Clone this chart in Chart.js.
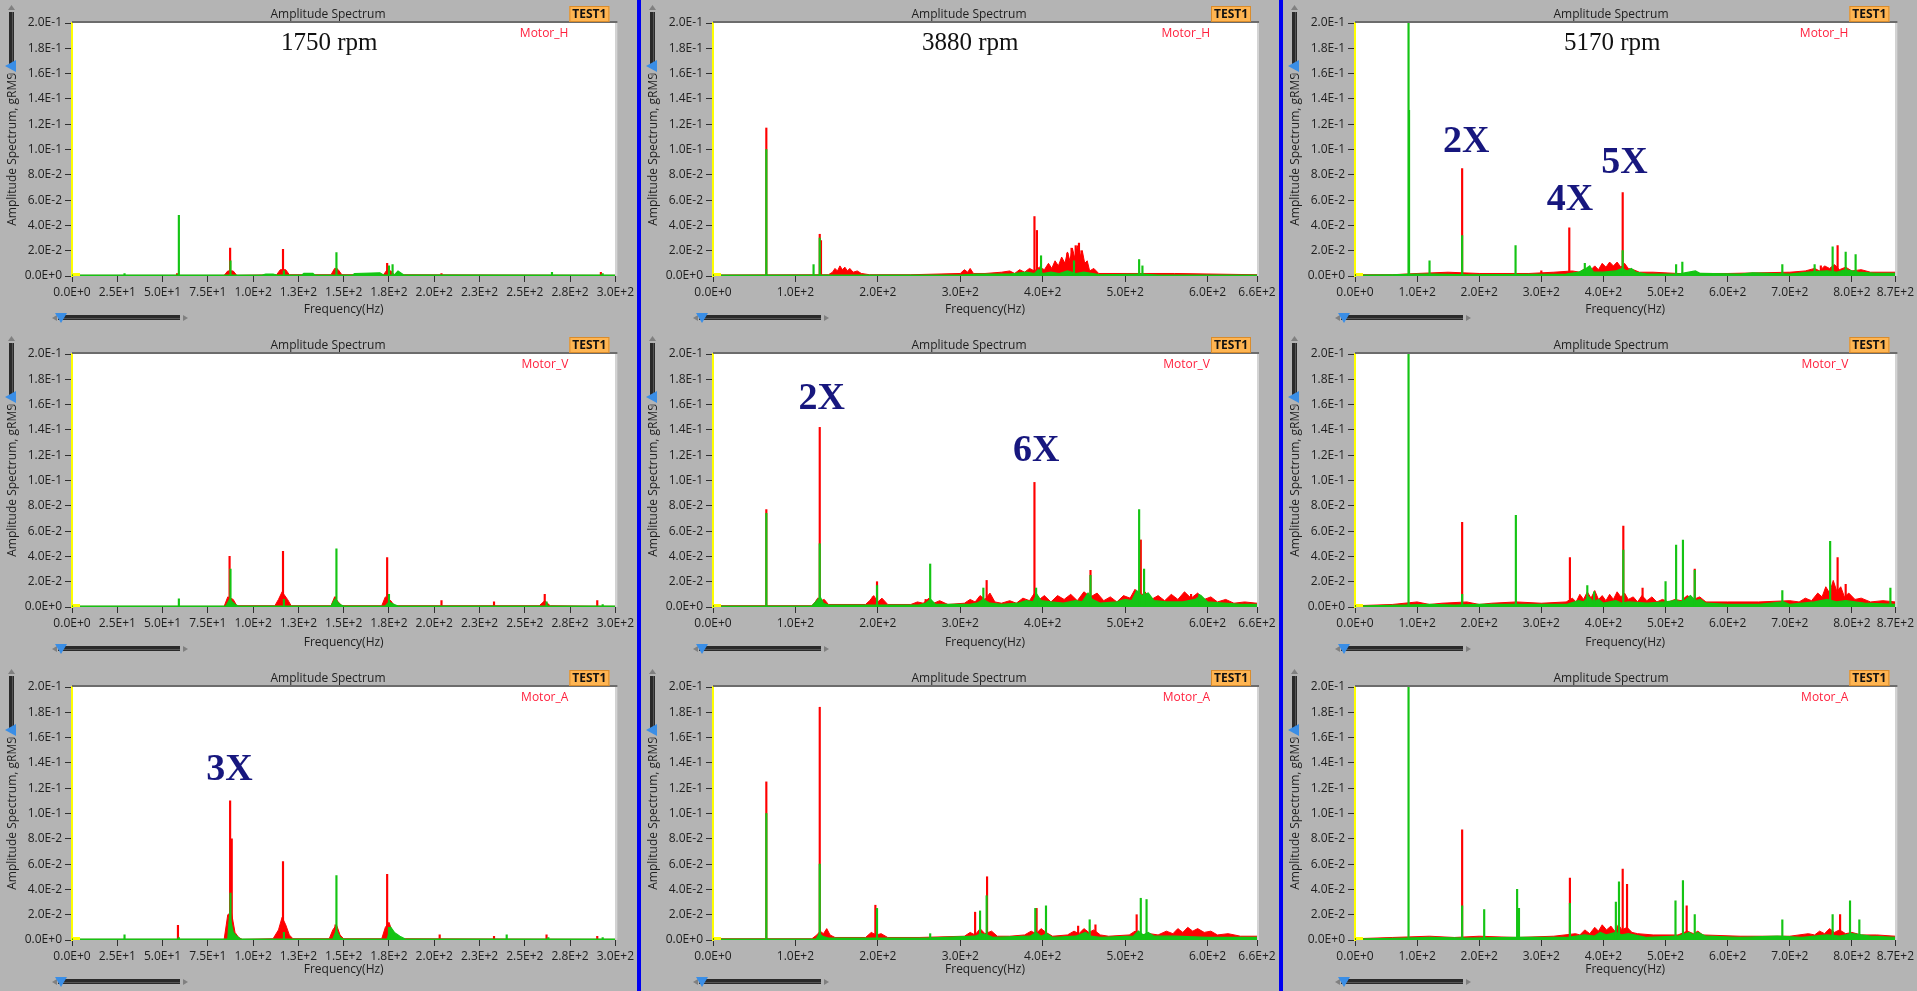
<!DOCTYPE html>
<html>
<head>
<meta charset="utf-8">
<script src="https://cdn.jsdelivr.net/npm/chart.js"></script>
<style>
body { margin: 0; background: #b4b4b4; width: 1917px; height: 991px; overflow: hidden; position: relative; }
.panel { position: absolute; }
.sep { position: absolute; top: 0; width: 4px; height: 991px; background: #0000f0; }
</style>
</head>
<body>
<div class="sep" style="left:637px"></div>
<div class="sep" style="left:1279px"></div>
<script>
// ---- data (frequency in Hz, amplitude in gRMS) ----
var rpmLabels = ['1750 rpm', '3880 rpm', '5170 rpm'];
var channels = ['Motor_H', 'Motor_V', 'Motor_A'];
var xMax = [300, 660, 870];
var xTicks1750 = [0, 25, 50, 75, 100, 125, 150, 175, 200, 225, 250, 275, 300];
var xTicks3880 = [0, 100, 200, 300, 400, 500, 600, 660];
var xTicks5170 = [0, 100, 200, 300, 400, 500, 600, 700, 800, 870];
var yTicks = [0, 0.02, 0.04, 0.06, 0.08, 0.1, 0.12, 0.14, 0.16, 0.18, 0.2];

// 1750 rpm
var hGreen1750 = [[29, 0.002], [59, 0.048], [87.5, 0.012], [117, 0.004], [146, 0.0185], [175, 0.008], [177, 0.009], [265, 0.003], [293, 0.002]];
var hRed1750 = [[58, 0.002], [87.3, 0.022], [116.5, 0.021], [146, 0.006], [174, 0.010], [204, 0.002], [292, 0.003]];
var hGreenFloor1750 = [[0, 0.0008], [105, 0.0008], [107, 0.0015], [111, 0.0015], [113, 0.0008], [127, 0.0008], [128, 0.002], [133, 0.002], [134, 0.0008], [155, 0.0008], [156, 0.002], [170, 0.0025], [172, 0.0008], [178, 0.0008], [180, 0.004], [183, 0.001], [300, 0.0008]];
var hRedFloor1750 = [[0, 0.0005], [84, 0.0005], [86, 0.004], [89, 0.004], [91, 0.0005], [113, 0.001], [115, 0.005], [118, 0.005], [120, 0.001], [143, 0.001], [145, 0.006], [147, 0.005], [149, 0.001], [172, 0.001], [174, 0.005], [176, 0.004], [178, 0.001], [300, 0.0005]];

var vGreen1750 = [[59, 0.0065], [87.5, 0.030], [117, 0.006], [146, 0.046], [175, 0.010], [262, 0.004], [293, 0.002]];
var vRed1750 = [[87, 0.040], [116.5, 0.044], [145.5, 0.008], [174, 0.039], [204, 0.005], [233, 0.004], [261, 0.010], [290, 0.005]];
var vGreenFloor1750 = [[0, 0.0008], [85, 0.0008], [87, 0.006], [90, 0.002], [92, 0.0008], [143, 0.0008], [145, 0.006], [148, 0.002], [150, 0.0008], [173, 0.0008], [175, 0.004], [178, 0.002], [180, 0.0008], [300, 0.0008]];
var vRedFloor1750 = [[0, 0.0005], [84, 0.0005], [86, 0.008], [89, 0.006], [91, 0.001], [112, 0.001], [114, 0.006], [116, 0.012], [119, 0.006], [121, 0.001], [143, 0.001], [145, 0.008], [147, 0.004], [149, 0.001], [171, 0.001], [173, 0.008], [176, 0.005], [178, 0.001], [258, 0.001], [261, 0.005], [264, 0.001], [300, 0.0005]];

var aGreen1750 = [[29, 0.004], [59, 0.002], [87.5, 0.037], [117, 0.006], [146, 0.051], [175, 0.010], [240, 0.004], [263, 0.002], [293, 0.002]];
var aRed1750 = [[58.5, 0.0115], [87.3, 0.110], [88.2, 0.080], [116.5, 0.062], [145.5, 0.012], [174, 0.052], [203, 0.004], [233, 0.003], [262, 0.004], [290, 0.003]];
var aGreenFloor1750 = [[0, 0.0008], [86, 0.0008], [87, 0.02], [89, 0.006], [91, 0.003], [93, 0.0008], [144, 0.0008], [146, 0.008], [148, 0.002], [150, 0.0008], [174, 0.0008], [176, 0.010], [178, 0.006], [181, 0.003], [184, 0.0008], [300, 0.0008]];
var aRedFloor1750 = [[0, 0.0005], [84, 0.0005], [86, 0.02], [88, 0.022], [90, 0.006], [92, 0.002], [94, 0.0005], [111, 0.001], [114, 0.008], [116, 0.018], [118, 0.012], [120, 0.004], [122, 0.001], [142, 0.001], [144, 0.008], [146, 0.012], [148, 0.004], [150, 0.001], [171, 0.001], [173, 0.010], [175, 0.014], [177, 0.006], [180, 0.002], [183, 0.001], [300, 0.0005]];

// 3880 rpm
var hGreen3880 = [[64.7, 0.100], [122, 0.009], [129.5, 0.030], [398, 0.016], [438, 0.012], [517, 0.013], [521, 0.008]];
var hRed3880 = [[64.7, 0.117], [129.5, 0.033], [131, 0.028], [390, 0.047], [393, 0.036], [430, 0.018], [435, 0.022], [440, 0.024], [444, 0.026], [447, 0.020]];
var hGreenFloor3880 = [[0, 0.0008], [300, 0.0008], [320, 0.0015], [360, 0.0015], [380, 0.003], [390, 0.002], [395, 0.005], [400, 0.002], [410, 0.003], [420, 0.002], [430, 0.004], [440, 0.002], [450, 0.003], [470, 0.001], [520, 0.0015], [540, 0.0008], [660, 0.0008]];
var hRedFloor3880 = [[0, 0.0008], [140, 0.001], [145, 0.003], [148, 0.006], [151, 0.004], [154, 0.008], [157, 0.005], [160, 0.007], [163, 0.004], [166, 0.006], [170, 0.003], [175, 0.004], [180, 0.002], [190, 0.001], [240, 0.001], [300, 0.002], [305, 0.005], [309, 0.003], [312, 0.006], [316, 0.002], [330, 0.002], [350, 0.003], [360, 0.004], [366, 0.002], [372, 0.005], [378, 0.003], [384, 0.006], [390, 0.004], [396, 0.007], [402, 0.005], [407, 0.01], [411, 0.006], [415, 0.012], [419, 0.008], [423, 0.015], [427, 0.01], [430, 0.019], [433, 0.012], [436, 0.022], [439, 0.014], [442, 0.024], [445, 0.015], [448, 0.02], [451, 0.01], [454, 0.012], [457, 0.004], [462, 0.006], [468, 0.002], [520, 0.002], [560, 0.002], [660, 0.001]];

var vGreen3880 = [[64.7, 0.074], [129.5, 0.050], [199, 0.017], [263.5, 0.034], [328, 0.015], [392, 0.015], [458, 0.025], [517, 0.077], [523, 0.030], [590, 0.010]];
var vRed3880 = [[64.7, 0.077], [129.5, 0.142], [194, 0.008], [199, 0.020], [258, 0.006], [332, 0.021], [390, 0.0985], [458, 0.029], [519, 0.053], [580, 0.010]];
var vGreenFloor3880 = [[0, 0.0008], [120, 0.0008], [126, 0.005], [130, 0.008], [134, 0.003], [140, 0.0015], [250, 0.0015], [258, 0.003], [264, 0.006], [270, 0.002], [310, 0.002], [320, 0.003], [328, 0.006], [336, 0.003], [350, 0.002], [370, 0.003], [380, 0.005], [388, 0.004], [393, 0.01], [398, 0.005], [410, 0.004], [425, 0.003], [440, 0.005], [448, 0.004], [455, 0.011], [460, 0.006], [470, 0.003], [490, 0.004], [500, 0.006], [508, 0.005], [514, 0.013], [520, 0.009], [528, 0.011], [535, 0.005], [550, 0.004], [570, 0.004], [585, 0.006], [592, 0.009], [600, 0.004], [620, 0.003], [640, 0.002], [660, 0.002]];
var vRedFloor3880 = [[0, 0.001], [120, 0.001], [124, 0.004], [127, 0.007], [131, 0.005], [135, 0.006], [140, 0.002], [185, 0.002], [190, 0.005], [195, 0.009], [200, 0.004], [205, 0.007], [212, 0.002], [240, 0.002], [248, 0.004], [255, 0.003], [262, 0.007], [268, 0.003], [275, 0.005], [285, 0.002], [305, 0.003], [312, 0.006], [318, 0.004], [324, 0.009], [330, 0.006], [336, 0.011], [342, 0.004], [350, 0.003], [360, 0.005], [368, 0.003], [376, 0.007], [384, 0.005], [390, 0.011], [396, 0.006], [402, 0.009], [410, 0.004], [418, 0.009], [426, 0.006], [434, 0.01], [442, 0.005], [450, 0.012], [458, 0.008], [466, 0.011], [474, 0.005], [482, 0.008], [490, 0.004], [498, 0.009], [506, 0.007], [512, 0.014], [518, 0.008], [524, 0.012], [532, 0.006], [540, 0.009], [548, 0.005], [556, 0.01], [564, 0.006], [572, 0.012], [580, 0.007], [588, 0.011], [596, 0.006], [604, 0.008], [612, 0.004], [622, 0.006], [632, 0.003], [645, 0.004], [660, 0.003]];

var aGreen3880 = [[64.7, 0.100], [129.5, 0.060], [199, 0.025], [263.5, 0.005], [324, 0.023], [332, 0.035], [391, 0.025], [404, 0.027], [457, 0.016], [519, 0.033], [526, 0.032]];
var aRed3880 = [[64.7, 0.125], [129.5, 0.184], [197, 0.0275], [318, 0.022], [332.5, 0.050], [392.6, 0.025], [443, 0.011], [464, 0.012], [514, 0.020], [585, 0.006]];
var aGreenFloor3880 = [[0, 0.0008], [125, 0.0008], [129, 0.005], [133, 0.003], [140, 0.0015], [200, 0.0015], [260, 0.0015], [318, 0.003], [325, 0.005], [332, 0.004], [340, 0.002], [385, 0.003], [392, 0.006], [398, 0.003], [405, 0.005], [412, 0.002], [440, 0.003], [452, 0.006], [458, 0.003], [470, 0.002], [510, 0.003], [516, 0.007], [522, 0.004], [528, 0.006], [535, 0.003], [560, 0.003], [600, 0.002], [660, 0.002]];
var aRedFloor3880 = [[0, 0.001], [120, 0.001], [126, 0.004], [130, 0.007], [134, 0.005], [138, 0.009], [142, 0.004], [148, 0.002], [185, 0.002], [192, 0.006], [198, 0.004], [204, 0.005], [212, 0.002], [250, 0.002], [305, 0.003], [312, 0.006], [318, 0.004], [324, 0.009], [330, 0.005], [338, 0.007], [345, 0.003], [360, 0.003], [378, 0.004], [386, 0.007], [392, 0.005], [398, 0.009], [404, 0.006], [412, 0.003], [430, 0.004], [438, 0.007], [444, 0.005], [450, 0.009], [456, 0.006], [462, 0.008], [470, 0.004], [480, 0.003], [505, 0.004], [512, 0.007], [520, 0.004], [530, 0.005], [540, 0.004], [550, 0.007], [558, 0.005], [564, 0.009], [570, 0.006], [576, 0.01], [582, 0.007], [588, 0.009], [596, 0.006], [604, 0.007], [612, 0.004], [625, 0.005], [640, 0.003], [660, 0.003]];

// 5170 rpm
var hGreen5170 = [[86.2, 0.22], [87, 0.131], [120, 0.012], [172.5, 0.032], [258.5, 0.024], [370, 0.010], [431, 0.020], [517, 0.009], [527, 0.011], [688, 0.009], [740, 0.009], [769, 0.023], [790, 0.019], [806, 0.017]];
var hRed5170 = [[172.5, 0.085], [300, 0.004], [345, 0.038], [431, 0.066], [750, 0.008], [777, 0.024]];
var hGreenFloor5170 = [[0, 0.0008], [60, 0.001], [100, 0.0015], [130, 0.0015], [180, 0.001], [340, 0.0015], [360, 0.003], [372, 0.006], [378, 0.008], [384, 0.003], [400, 0.003], [420, 0.004], [430, 0.006], [438, 0.004], [445, 0.006], [452, 0.003], [470, 0.0015], [520, 0.0015], [548, 0.004], [556, 0.002], [620, 0.0015], [640, 0.0025], [700, 0.0015], [730, 0.003], [760, 0.004], [775, 0.003], [790, 0.005], [810, 0.003], [840, 0.002], [870, 0.002]];
var hRedFloor5170 = [[0, 0.001], [60, 0.001], [100, 0.002], [150, 0.003], [200, 0.002], [280, 0.002], [320, 0.003], [350, 0.004], [362, 0.003], [370, 0.006], [378, 0.004], [386, 0.008], [392, 0.005], [398, 0.01], [404, 0.007], [410, 0.011], [416, 0.008], [422, 0.011], [428, 0.007], [434, 0.01], [440, 0.006], [448, 0.005], [458, 0.003], [480, 0.003], [520, 0.002], [600, 0.002], [700, 0.003], [725, 0.004], [740, 0.006], [748, 0.004], [756, 0.008], [764, 0.006], [772, 0.009], [780, 0.005], [790, 0.007], [800, 0.004], [815, 0.005], [830, 0.003], [870, 0.003]];

var vGreen5170 = [[86.2, 0.22], [172.5, 0.010], [259, 0.0725], [374, 0.017], [385, 0.012], [432, 0.045], [500, 0.020], [517, 0.049], [528, 0.053], [547, 0.029], [688, 0.013], [765, 0.052], [862, 0.015]];
var vRed5170 = [[172.5, 0.067], [346, 0.039], [432, 0.064], [463, 0.015], [547, 0.030], [777, 0.039], [790, 0.018]];
var vGreenFloor5170 = [[0, 0.0008], [80, 0.0015], [120, 0.002], [160, 0.0015], [200, 0.002], [280, 0.002], [340, 0.002], [360, 0.005], [368, 0.004], [376, 0.008], [384, 0.004], [392, 0.006], [400, 0.003], [420, 0.005], [430, 0.003], [440, 0.004], [470, 0.003], [500, 0.004], [515, 0.005], [528, 0.004], [540, 0.009], [548, 0.005], [556, 0.006], [565, 0.003], [600, 0.002], [650, 0.002], [690, 0.004], [700, 0.002], [740, 0.004], [760, 0.006], [775, 0.004], [790, 0.005], [820, 0.003], [870, 0.002]];
var vRedFloor5170 = [[0, 0.001], [60, 0.002], [100, 0.004], [120, 0.002], [140, 0.003], [180, 0.004], [200, 0.002], [220, 0.003], [260, 0.004], [300, 0.003], [340, 0.004], [350, 0.007], [356, 0.004], [362, 0.01], [368, 0.006], [374, 0.012], [380, 0.007], [386, 0.013], [392, 0.006], [398, 0.009], [404, 0.005], [410, 0.01], [416, 0.006], [422, 0.012], [428, 0.008], [434, 0.011], [440, 0.006], [448, 0.008], [455, 0.004], [462, 0.009], [470, 0.005], [478, 0.008], [486, 0.004], [495, 0.006], [505, 0.004], [515, 0.006], [525, 0.005], [535, 0.009], [545, 0.006], [555, 0.008], [565, 0.004], [600, 0.004], [650, 0.004], [700, 0.005], [715, 0.004], [725, 0.007], [735, 0.005], [745, 0.011], [752, 0.008], [758, 0.016], [764, 0.011], [770, 0.021], [776, 0.012], [782, 0.016], [788, 0.008], [795, 0.011], [805, 0.006], [815, 0.007], [830, 0.004], [850, 0.005], [870, 0.004]];

var aGreen5170 = [[86.2, 0.22], [172.5, 0.027], [208, 0.024], [261, 0.040], [264, 0.025], [346, 0.029], [420, 0.030], [425, 0.046], [516, 0.031], [528, 0.047], [547, 0.020], [688, 0.016], [769, 0.020], [797, 0.031], [812, 0.016]];
var aRed5170 = [[172.5, 0.087], [346, 0.049], [431, 0.056], [438, 0.044], [534, 0.027], [781, 0.020]];
var aGreenFloor5170 = [[0, 0.0008], [80, 0.0015], [120, 0.002], [180, 0.0015], [260, 0.002], [340, 0.002], [370, 0.004], [385, 0.003], [395, 0.006], [405, 0.004], [420, 0.006], [430, 0.004], [440, 0.005], [470, 0.002], [520, 0.003], [538, 0.006], [545, 0.004], [552, 0.006], [565, 0.003], [620, 0.002], [680, 0.003], [720, 0.002], [760, 0.004], [780, 0.003], [800, 0.005], [830, 0.003], [870, 0.002]];
var aRedFloor5170 = [[0, 0.001], [60, 0.002], [120, 0.003], [160, 0.002], [200, 0.003], [260, 0.002], [320, 0.003], [355, 0.005], [362, 0.004], [370, 0.008], [378, 0.005], [386, 0.01], [392, 0.007], [398, 0.012], [405, 0.008], [412, 0.011], [418, 0.007], [424, 0.012], [430, 0.008], [438, 0.01], [446, 0.006], [455, 0.005], [480, 0.004], [520, 0.004], [535, 0.007], [545, 0.005], [552, 0.007], [560, 0.004], [620, 0.003], [700, 0.003], [730, 0.005], [740, 0.004], [748, 0.007], [756, 0.005], [764, 0.009], [772, 0.006], [780, 0.008], [790, 0.005], [800, 0.006], [815, 0.004], [840, 0.004], [870, 0.003]];

// harmonic labels [text, Hz, gRMS]
var notesA1750 = [['3X', 87, 0.134]];
var notesV3880 = [['2X', 132, 0.164], ['6X', 392, 0.123]];
var notesH5170 = [['2X', 179, 0.106], ['4X', 346, 0.060], ['5X', 434, 0.089]];

// ---- layout ----
var colX = [0, 641, 1283], colW = [637, 638, 634];
var rowY = [0, 331, 664], rowH = [331, 333, 327];
var plotTop = 23, plotBottom = 276, plotRight = 616, axisW = 72;
var RED = '#ff0000', GREEN = '#14c414';

Chart.defaults.font.family = "'Open Sans', sans-serif";
Chart.defaults.font.size = 12;
Chart.defaults.color = '#1e1e1e';

var panels = [
    [0, 0, hRed1750, hGreen1750, hRedFloor1750, hGreenFloor1750, [], xTicks1750],
    [1, 0, vRed1750, vGreen1750, vRedFloor1750, vGreenFloor1750, [], xTicks1750],
    [2, 0, aRed1750, aGreen1750, aRedFloor1750, aGreenFloor1750, notesA1750, xTicks1750],
    [0, 1, hRed3880, hGreen3880, hRedFloor3880, hGreenFloor3880, [], xTicks3880],
    [1, 1, vRed3880, vGreen3880, vRedFloor3880, vGreenFloor3880, notesV3880, xTicks3880],
    [2, 1, aRed3880, aGreen3880, aRedFloor3880, aGreenFloor3880, [], xTicks3880],
    [0, 2, hRed5170, hGreen5170, hRedFloor5170, hGreenFloor5170, notesH5170, xTicks5170],
    [1, 2, vRed5170, vGreen5170, vRedFloor5170, vGreenFloor5170, [], xTicks5170],
    [2, 2, aRed5170, aGreen5170, aRedFloor5170, aGreenFloor5170, [], xTicks5170]
];

function sci(v) {
    return Number(v).toExponential(1).toUpperCase();
}

function pts(arr) {
    return arr.map(function (p) { return {x: p[0], y: p[1]}; });
}

function tri(c, a, b, d, color) {
    c.fillStyle = color;
    c.beginPath();
    c.moveTo(a[0], a[1]);
    c.lineTo(b[0], b[1]);
    c.lineTo(d[0], d[1]);
    c.closePath();
    c.fill();
}

// LabVIEW-like frame, badge, labels and sliders
function makeDecor(row, col, notes) {
    return {
        id: 'decor',
        beforeDraw: function (chart) {
            var a = chart.chartArea, c = chart.ctx;
            c.save();
            c.fillStyle = '#ffffff';
            c.fillRect(a.left, a.top, a.right - a.left, a.bottom - a.top);
            c.restore();
        },
        afterDraw: function (chart) {
            var a = chart.chartArea, c = chart.ctx;
            c.save();
            c.fillStyle = '#6c6c6c';
            c.fillRect(a.left, a.top - 2, a.right - a.left + 2, 2);
            c.fillStyle = '#d4d4d4';
            c.fillRect(a.right, a.top, 2, a.bottom - a.top);
            c.fillStyle = '#ffff00';
            c.fillRect(a.left + 1, a.bottom - 3, 7, 3);

            c.textBaseline = 'middle';
            c.textAlign = 'center';
            c.fillStyle = '#1e1e1e';
            c.font = "12px 'Open Sans'";
            c.fillText('Amplitude Spectrum', a.left + 256, 15);

            c.fillStyle = '#ffb552';
            c.fillRect(a.right - 46, 6, 40, 16);
            c.strokeStyle = '#d98c2c';
            c.lineWidth = 1;
            c.strokeRect(a.right - 45.5, 6.5, 39, 15);
            c.fillStyle = '#111111';
            c.font = "bold 12px 'Open Sans'";
            c.fillText('TEST1', a.right - 26, 14.5);

            c.textAlign = 'right';
            c.fillStyle = '#ff1f3c';
            c.font = "12px 'Open Sans'";
            c.fillText(channels[row], a.right - 47, a.top + 11);

            if (row === 0) {
                c.textAlign = 'left';
                c.textBaseline = 'alphabetic';
                c.fillStyle = '#111111';
                c.font = "25px 'Liberation Serif'";
                c.fillText(rpmLabels[col], a.left + 209, a.top + 27);
            }

            c.textAlign = 'center';
            c.textBaseline = 'middle';
            c.fillStyle = '#17177e';
            c.font = "bold 38px 'Liberation Serif'";
            notes.forEach(function (n) {
                c.fillText(n[0], chart.scales.x.getPixelForValue(n[1]), chart.scales.y.getPixelForValue(n[2]));
            });

            // vertical slider
            tri(c, [11.5, 5], [8, 10], [15, 10], '#808080');
            c.fillStyle = '#2a2a2a';
            c.fillRect(9, 12, 5, 52);
            c.fillStyle = '#555555';
            c.fillRect(12, 12, 1, 52);
            tri(c, [5, 66], [16, 60], [16, 72], '#3a8ee6');
            tri(c, [8, 73], [15, 73], [11.5, 77], '#808080');

            // horizontal slider
            var y0 = a.bottom + 42;
            tri(c, [52, y0], [57, y0 - 3], [57, y0 + 3], '#808080');
            c.fillStyle = '#2a2a2a';
            c.fillRect(58, y0 - 3, 122, 5);
            c.fillStyle = '#555555';
            c.fillRect(58, y0, 122, 1);
            tri(c, [183, y0 - 3], [183, y0 + 3], [188, y0], '#808080');
            tri(c, [55, y0 - 5], [67, y0 - 5], [61, y0 + 5], '#3a8ee6');
            c.restore();
        }
    };
}

panels.forEach(function (p) {
    var row = p[0], col = p[1];
    var w = colW[col], h = rowH[row];
    var div = document.createElement('div');
    div.className = 'panel';
    div.style.left = colX[col] + 'px';
    div.style.top = rowY[row] + 'px';
    div.style.width = w + 'px';
    div.style.height = h + 'px';
    var canvas = document.createElement('canvas');
    canvas.width = w;
    canvas.height = h;
    div.appendChild(canvas);
    document.body.appendChild(div);
    var xt = p[7];

    new Chart(canvas, {
        type: 'bar',
        data: {
            datasets: [{
                type: 'bar',
                data: pts(p[3]),
                backgroundColor: GREEN,
                barThickness: 1.5,
                grouped: false,
                order: 0
            },
            {
                type: 'line',
                data: pts(p[5]),
                borderColor: GREEN,
                backgroundColor: GREEN,
                borderWidth: 1.2,
                pointRadius: 0,
                tension: 0,
                fill: 'origin',
                order: 1
            },
            {
                type: 'bar',
                data: pts(p[2]),
                backgroundColor: RED,
                barThickness: 1.5,
                grouped: false,
                order: 2
            },
            {
                type: 'line',
                data: pts(p[4]),
                borderColor: RED,
                backgroundColor: RED,
                borderWidth: 1,
                pointRadius: 0,
                tension: 0,
                fill: 'origin',
                order: 3
            }]
        },
        options: {
            responsive: false,
            animation: false,
            events: [],
            layout: {
                padding: {top: plotTop, right: w - plotRight, left: 0, bottom: 0}
            },
            plugins: {
                legend: {display: false},
                tooltip: {enabled: false}
            },
            scales: {
                x: {
                    type: 'linear',
                    min: 0,
                    max: xMax[col],
                    offset: false,
                    afterFit: function (s) { s.height = h - plotBottom; },
                    afterBuildTicks: function (s) { s.ticks = xt.map(function (v) { return {value: v}; }); },
                    ticks: {
                        callback: function (v) { return sci(v); },
                        autoSkip: false,
                        maxRotation: 0,
                        minRotation: 0,
                        padding: 3
                    },
                    grid: {drawOnChartArea: false, offset: false, tickLength: 6, tickColor: '#303030'},
                    border: {display: false},
                    title: {display: true, text: 'Frequency(Hz)', padding: {top: 0, bottom: 14}}
                },
                y: {
                    min: 0,
                    max: 0.2,
                    afterFit: function (s) { s.width = axisW; },
                    afterBuildTicks: function (s) { s.ticks = yTicks.map(function (v) { return {value: v}; }); },
                    ticks: {
                        callback: function (v) { return sci(v); },
                        padding: 3
                    },
                    grid: {drawOnChartArea: false, tickLength: 7, tickColor: '#303030'},
                    border: {color: '#ffff00', width: 2},
                    title: {display: true, text: 'Amplitude Spectrum, gRMS', padding: {top: 5, bottom: 0}}
                }
            }
        },
        plugins: [makeDecor(row, col, p[6])]
    });
});
</script>
</body>
</html>
